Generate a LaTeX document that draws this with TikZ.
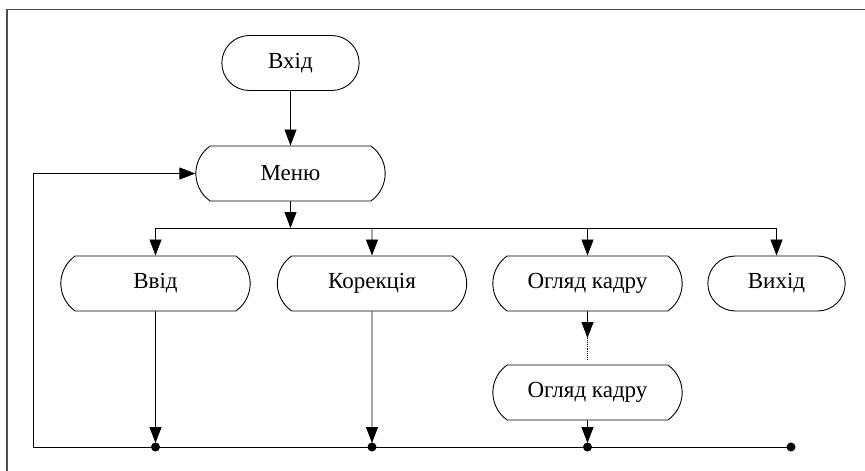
\documentclass[tikz,border=0pt]{standalone}
\usepackage{fontspec}
\setmainfont{Liberation Serif}
\usetikzlibrary{arrows.meta, shapes.misc}

\tikzset{
    block/.style={draw=black, rounded rectangle, rounded rectangle arc length=110,
        minimum width=196pt, minimum height=55pt,
        line width=0.9pt, font=\fontsize{23}{27}\selectfont},
    term/.style={block, rounded rectangle arc length=180, minimum width=144pt},
    flow/.style={-{Triangle[length=16pt,width=12pt]}, line width=0.9pt},
    joint/.style={circle, fill=black, inner sep=0pt, minimum size=9pt},
}

\begin{document}
\begin{tikzpicture}[x=1pt, y=-1pt]
    \useasboundingbox (0,0) rectangle (865,471);
    \draw[line width=1.6pt, black!70] (865,9.5) -- (7,9.5) -- (7,471);

    \node[term]  (vhid)    at (290.5, 63)    {Вхід};
    \node[block] (menu)    at (290.5, 173.5) {Меню};
    \node[block] (vvid)    at (155.5, 283.5) {Ввід};
    \node[block] (korek)   at (372,   283.5) {Корекція};
    \node[block] (ohliad)  at (587.5, 283.5) {Огляд кадру};
    \node[term]  (vyhid)   at (776.5, 283.5) {Вихід};
    \node[block] (ohliadn) at (587.5, 392.5) {Огляд кадру};

    \coordinate (split) at (290.5, 228);
    \coordinate (dots) at (587.5, 338);
    \coordinate (bl) at (33, 447);
    \coordinate (br) at (791, 447);

    \path[flow] (vhid) edge (menu);
    \path[flow] (menu) edge (split);
    \draw[line width=0.9pt] (vvid |- split) -- (vyhid |- split);
    \path[flow] (vvid |- split) edge (vvid);
    \path[flow] (korek |- split) edge (korek);
    \path[flow] (ohliad |- split) edge (ohliad);
    \path[flow] (vyhid |- split) edge (vyhid);

    \path[flow] (ohliad) edge (dots);
    \draw[line width=0.9pt, densely dotted] (dots) -- ++(0,22);

    \draw[line width=0.9pt] (bl) -- (br);
    \path[flow, shorten >=4pt] (vvid) edge (vvid |- bl);
    \path[flow, shorten >=4pt] (korek) edge (korek |- bl);
    \path[flow, shorten >=4pt] (ohliadn) edge (ohliadn |- bl);
    \draw[flow] (bl) |- (menu);

    \node[joint] (j1) at (vvid |- bl) {};
    \node[joint] (j2) at (korek |- bl) {};
    \node[joint] (j3) at (ohliadn |- bl) {};
    \node[joint] (j4) at (br) {};

\end{tikzpicture}
\end{document}
